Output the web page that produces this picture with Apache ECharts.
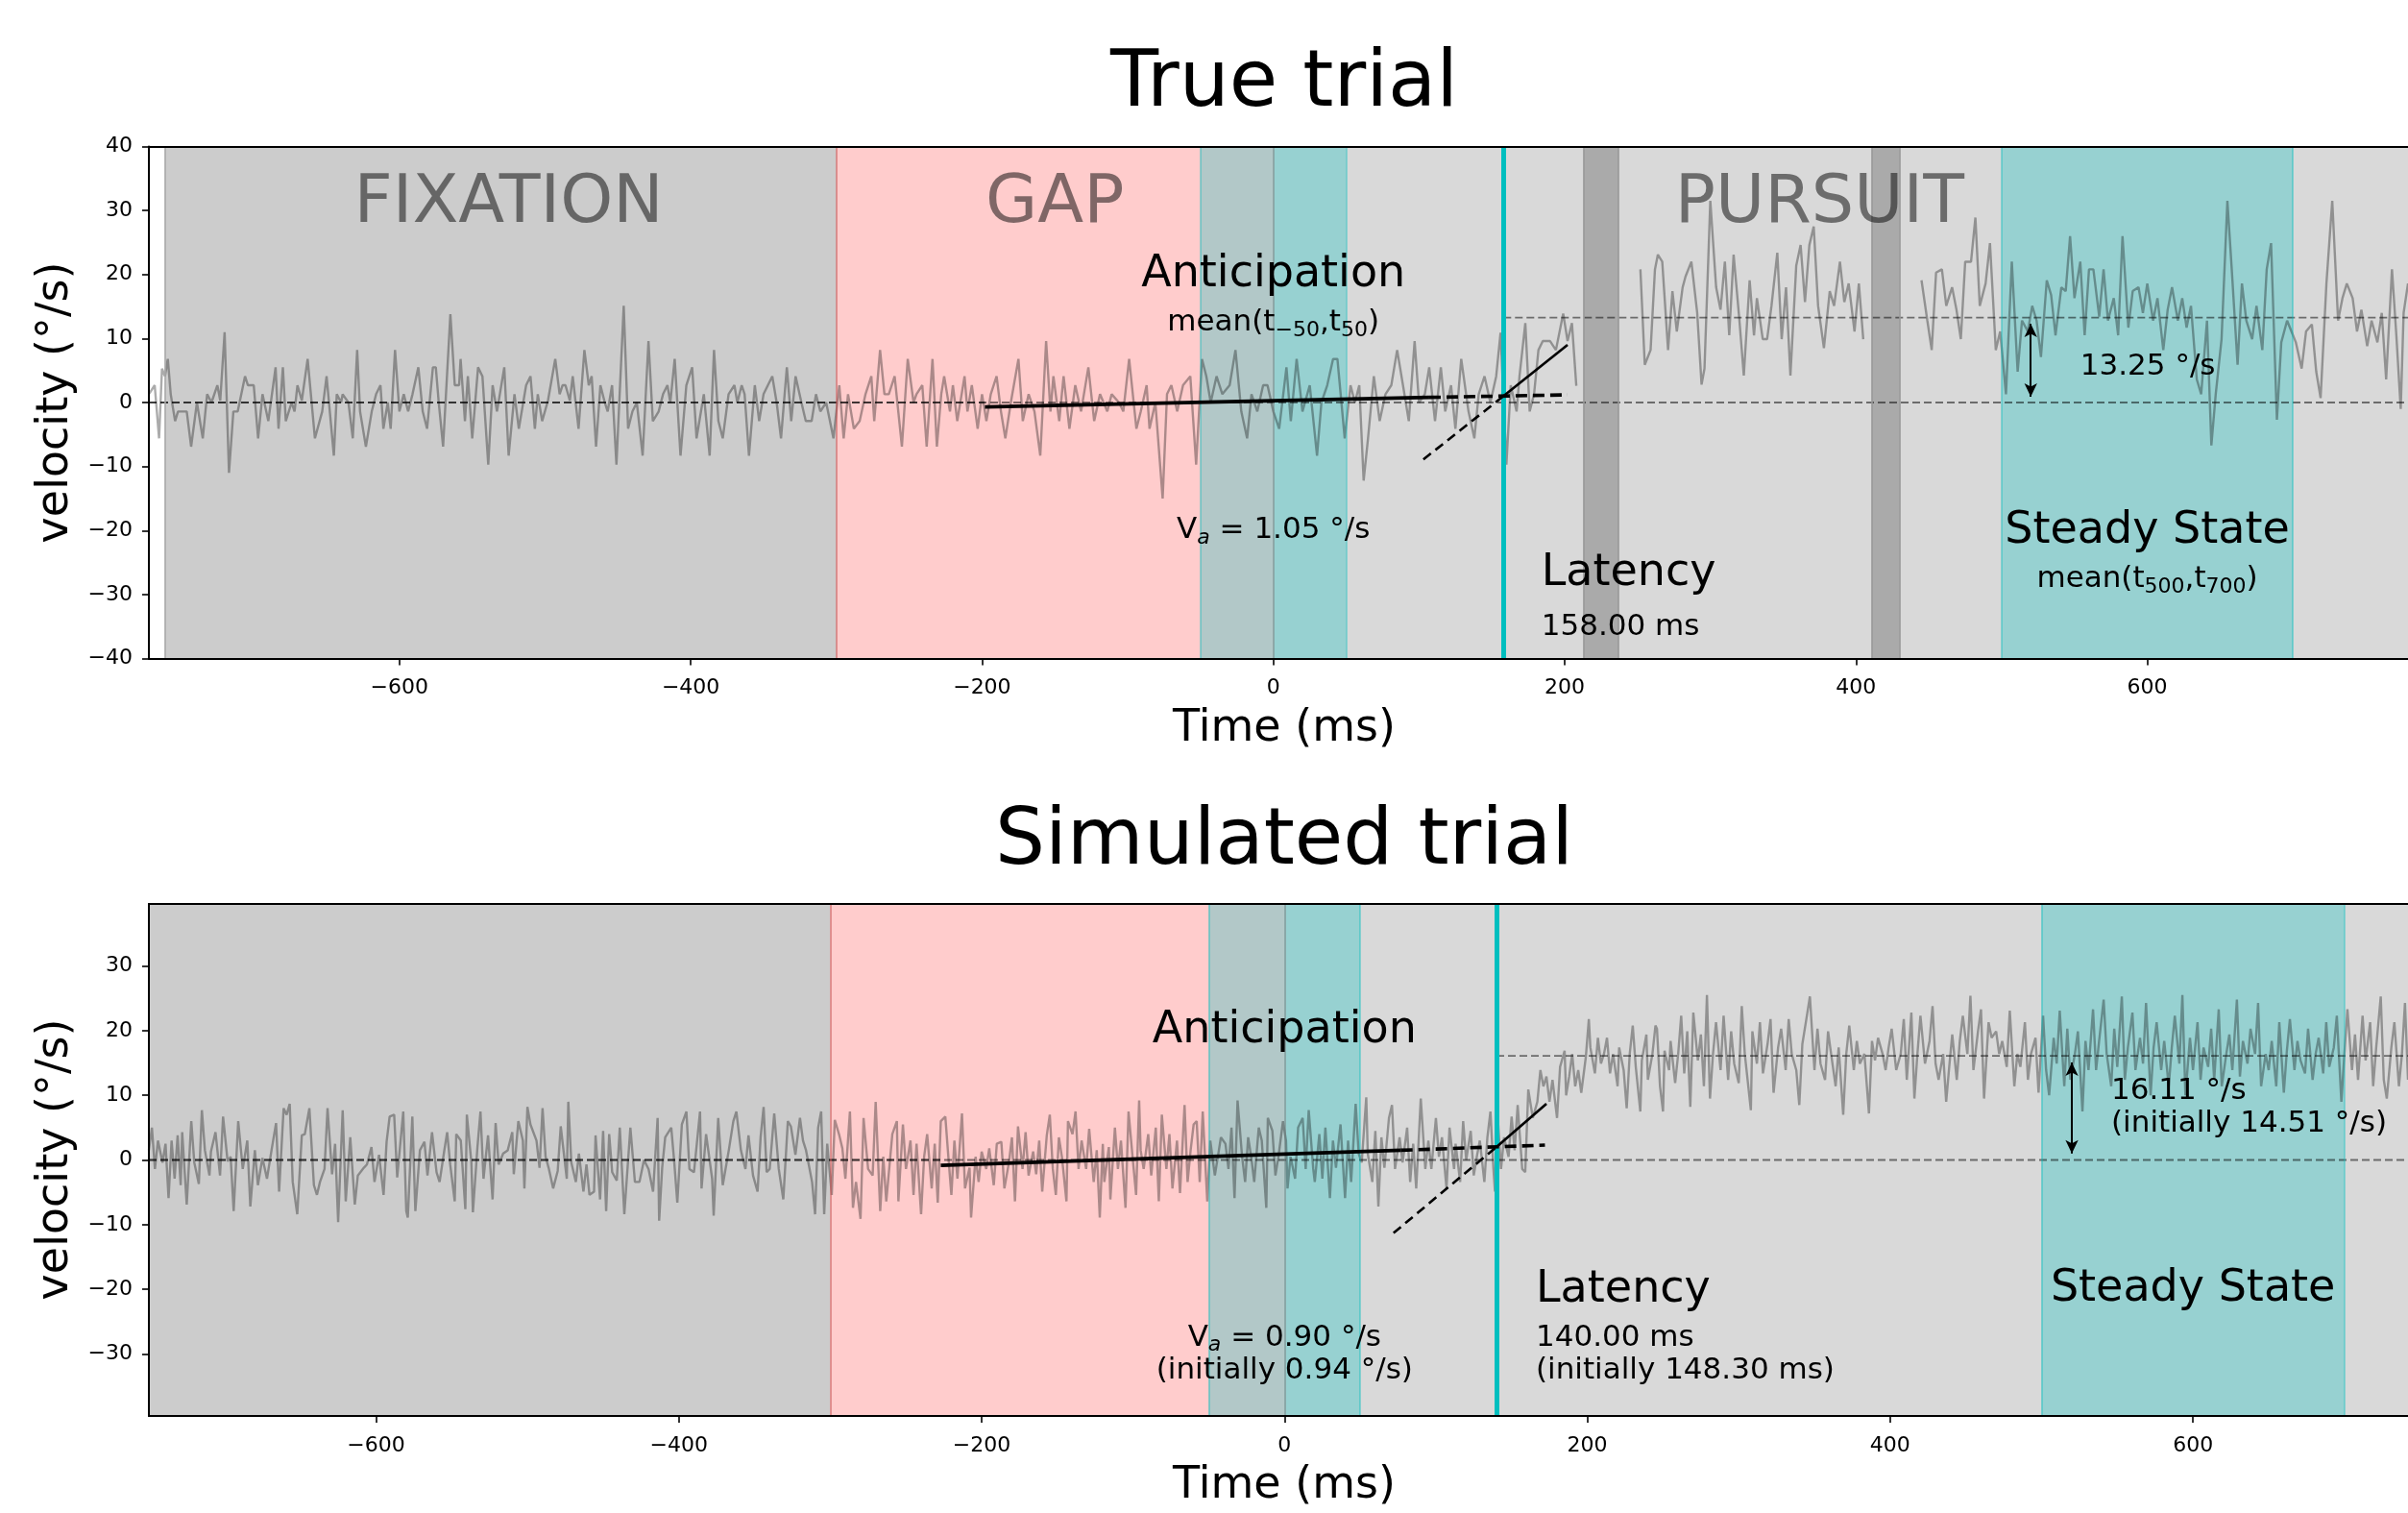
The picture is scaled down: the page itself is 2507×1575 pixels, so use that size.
<!DOCTYPE html>
<html><head><meta charset="utf-8">
<script src="https://cdn.jsdelivr.net/npm/echarts@6/dist/echarts.min.js"></script>
<style>html,body{margin:0;padding:0;background:#fff}#c{width:2507px;height:1575px}</style>
</head><body><div id="c"></div>
<script>
// ---------- data ----------
const xTicks = [-600,-400,-200,0,200,400,600];
const yTicksTrue = [-40,-30,-20,-10,0,10,20,30,40];
const yTicksSim = [-30,-20,-10,0,10,20,30];
const xRangeTrue = [-772, 779];
const xRangeSim = [-750, 742];
const yRangeTrue = [-40, 40];
const yRangeSim = [-39.6, 39.6];

const fixationTrue = [-761, -300];
const fixationSim = [-750, -300];
const gapWin = [-300, 0];
const anticipWin = [-50, 50];
const steadyWin = [500, 700];
const saccadesTrue = [[213, 237], [411, 430]];
const saccadesSim = [];
const latencyTrue = 158;
const latencySim = 140;
const steadyTrue = 13.25;
const steadySim = 16.11;
const baselineEndTrue = -198;
const baselineEndSim = -227;

const fitFlatTrue = [[-198,-0.7],[107,0.8]];
const fitFlatExtTrue = [[107,0.8],[202,1.2]];
const fitRiseExtTrue = [[103,-8.9],[158,1.0]];
const fitRiseTrue = [[158,1.0],[202,9.0]];
const fitFlatSim = [[-227,-0.84],[77,1.5]];
const fitFlatExtSim = [[77,1.5],[172,2.3]];
const fitRiseExtSim = [[72,-11.3],[140,2.0]];
const fitRiseSim = [[140,2.0],[173,8.7]];

const arrowTrue = [520, 0.9, 12.3];
const arrowSim = [520, 1.0, 15.1];

// true trial eye velocity (ms, deg/s); null = missing samples (saccades)
const trueTrace = [[-772,1.3],[-768,2.7],[-765,-5.6],[-763,5.3],[-761,4.1],[-759,6.8],[-757,1.3],[-754,-2.9],[-752,-1.4],[-746,-1.4],[-743,-6.9],[-739,0],[-738,-1.4],[-735,-5.6],[-732,1.3],[-729,0],[-725,2.7],[-723,0.3],[-720,11],[-717,-11],[-714,-1.4],[-711,-1.4],[-706,4.1],[-704,2.7],[-700,2.7],[-697,-5.6],[-694,1.3],[-690,-2.9],[-685,5.5],[-683,-4.1],[-680,5.5],[-678,-2.9],[-674,0],[-672,-1.4],[-670,2.7],[-667,0.3],[-663,6.8],[-658,-5.6],[-653,-1.4],[-650,4.1],[-645,-8.3],[-643,1.3],[-640,0],[-639,1.3],[-635,0],[-632,-5.6],[-629,8.2],[-627,-1.4],[-623,-6.9],[-619,-1.4],[-616,1.3],[-613,2.7],[-611,-4.1],[-608,0],[-606,-4.1],[-603,8.2],[-600,-1.4],[-597,1.3],[-594,-1.4],[-591,1.3],[-587,5.5],[-584,-1.4],[-581,-4.1],[-577,5.5],[-575,5.5],[-573,0],[-570,-6.9],[-565,13.8],[-562,2.7],[-559,2.7],[-558,6.8],[-555,-2.9],[-553,4.1],[-550,-5.6],[-546,5.5],[-543,4.1],[-539,-9.7],[-536,2.7],[-533,-1.4],[-528,5.5],[-525,-8.3],[-521,1.3],[-518,-4.1],[-513,2.7],[-510,4.1],[-507,-4.1],[-505,1.3],[-502,-2.9],[-498,0.3],[-493,6.8],[-490,1.3],[-488,2.7],[-486,2.7],[-483,0.3],[-481,4.1],[-477,-4.1],[-473,8.2],[-470,2.7],[-468,4.1],[-465,-6.9],[-462,2.7],[-459,0],[-457,-1.4],[-454,2.7],[-451,-9.7],[-446,15.1],[-443,-4.1],[-440,-1.4],[-437,0],[-433,-8.3],[-429,9.6],[-426,-2.9],[-422,-1.4],[-419,1.3],[-416,2.7],[-414,0],[-411,6.8],[-407,-8.3],[-403,2.7],[-399,5.5],[-396,-5.6],[-391,1.3],[-387,-8.3],[-384,8.2],[-381,-2.9],[-378,-5.6],[-374,1.3],[-370,2.7],[-368,0],[-365,2.7],[-363,1.3],[-360,-8.3],[-356,2.7],[-353,-2.9],[-350,1.3],[-344,4.1],[-341,0],[-338,-5.6],[-334,5.5],[-331,-2.9],[-328,4.1],[-324,0],[-321,-2.9],[-317,-2.9],[-314,1.3],[-311,-1.4],[-307,0],[-302,-5.6],[-298,2.7],[-295,-5.6],[-292,1.3],[-288,-4.1],[-284,-2.9],[-280,1.3],[-276,4.1],[-274,-2.9],[-270,8.2],[-267,1.3],[-264,1.3],[-260,4.1],[-255,-6.9],
[-251,6.8],[-247,0],[-245,1.3],[-241,2.7],[-238,-6.9],[-234,6.8],[-231,-6.9],[-228,1.3],[-226,4.1],[-222,-1.4],[-220,2.7],[-217,-2.9],[-212,4.1],[-210,-1.4],[-207,2.7],[-203,-4.1],[-200,1.3],[-197,-2.9],[-194,1.3],[-190,4.1],[-187,-1.4],[-184,-5.6],[-180,0.3],[-175,6.8],[-172,-2.9],[-168,1.3],[-164,-1.4],[-160,-8.3],[-156,9.6],[-153,-1.4],[-151,4.1],[-147,-2.9],[-144,4.1],[-140,-4.1],[-136,2.7],[-132,-1.4],[-127,5.5],[-123,-2.9],[-119,1.3],[-114,-1.4],[-111,1.3],[-106,0],[-103,-1.4],[-99,6.8],[-94,-4.1],[-91,-1.4],[-87,2.7],[-85,-4.1],[-81,0],[-76,-15],[-73,1.3],[-70,2.7],[-66,-1.4],[-62,2.7],[-57,4.1],[-53,-9.7],[-49,6.8],[-46,4.1],[-43,0],[-39,4.1],[-35,1.3],[-30,2.7],[-26,8.2],[-22,-1.4],[-18,-5.6],[-15,1.3],[-11,-1.4],[-7,2.7],[-4,2.7],[0,-1.4],[4,-4.1],[9,5.5],[12,-2.9],[16,6.8],[20,-1.4],[25,2.7],[30,-8.3],[33,0],[37,2.7],[41,6.8],[44,6.8],[49,-5.6],[53,2.7],[56,0],[59,2.7],[62,-12.2],[65,-5.6],[69,4.1],[73,-2.9],[77,1.3],[81,2.7],[85,8.2],[89,2.7],[93,-2.9],[97,9.6],[100,0],[104,1.3],[107,5.5],[111,-2.9],[115,5.5],[118,-1.4],[122,2.7],[125,-4.1],[129,6.8],[134,-1.4],[138,-5.6],[141,1.3],[145,4.1],[149,0],[153,4.1],[156,10.9],[160,-9.7],[163,2.7],[167,-1.4],[169,4.1],[173,12.4],[176,-1.4],[179,1.3],[182,8.2],[185,9.6],[190,9.6],[194,8.2],[199,13.9],[202,9.6],[205,12.4],[208,2.6],
[230,null],
[252,20.8],[255,5.9],[259,8.2],[262,20.8],[264,23.1],[267,22],[271,8.2],[274,17.4],[277,11.1],[281,18],[283,19.7],[287,22],[291,14],[294,2.8],[296,5.3],[300,31.5],[304,18],[307,14.5],[310,22],[313,10.5],[316,23.1],[320,12.8],[323,4.2],[327,19.1],[330,10.5],[332,16.3],[336,9.9],[339,9.9],[342,15.1],[346,23.4],[349,9.9],[352,18],[355,4.2],[359,21.4],[362,24.6],[365,15.7],[368,24.6],[371,27.5],[374,15.1],[378,8.5],[382,17.4],[385,15.1],[389,22],[392,15.7],[395,18.6],[399,11.1],[402,18.6],[405,9.9],
[425,null],
[445,19.1],[449,12.8],[452,8.2],[455,20.3],[459,20.8],[462,15.1],[466,18],[469,14.5],[472,9.9],[475,22],[479,22],[482,28.9],[485,15.1],[489,18.6],[492,24.9],[496,8.2],[499,11.1],[503,1.3],[507,22],[511,4.8],[514,12.8],[518,11.1],[521,15.1],[524,12.8],[527,7.1],[531,19.1],[534,16.8],[537,10.5],[541,18],[544,17.4],[547,26],[550,16.3],[554,22],[557,10.5],[560,20.8],[563,20.8],[567,13.4],[570,20.8],[573,12.8],[577,16.3],[580,10.5],[583,26],[587,11.7],[590,17.4],[594,18],[597,14],[600,18.6],[604,12.8],[607,16.3],[611,8.2],[614,14.5],[617,18],[621,12.8],[624,16.3],[627,11.7],[630,15.1],[634,3.6],[637,1.3],[641,12.8],[644,-6.7],[647,1.3],[651,9.9],[655,31.5],[658,20.8],[662,5.9],[665,18.6],[668,12.8],[672,9.9],[675,15.1],[679,8.2],[682,20.8],[685,24.9],[689,-2.7],[692,9.4],[696,12.8],[699,11.1],[702,9.4],[706,5.3],[709,11.1],[713,12.2],[716,4.8],[719,0.7],[723,18.6],[727,31.5],[731,12.8],[734,16.3],[737,18.6],[741,16.3],[744,11.1],[747,14.5],[751,8.8],[754,12.8],[758,9.4],[761,14],[764,3.6],[768,20.8],[771,10.5],[774,-1],[776,14],[779,18.6]];

// simulated trial eye velocity (ms, deg/s)
const simTrace = [[-750,1.5],[-748,5.0],[-746,-1.4],[-744,3.0],[-741,-0.4],[-739,2.5],[-737,-5.9],[-735,3.0],[-733,-2.9],[-731,3.8],[-729,-3.9],[-728,4.3],[-725,-6.9],[-722,6.0],[-720,-0.4],[-717,-3.7],[-715,7.7],[-713,1.5],[-710,-2.4],[-709,1.3],[-706,4.3],[-703,-2.4],[-701,6.7],[-698,-0.2],[-696,0.5],[-694,-7.9],[-691,6.0],[-688,-1.4],[-685,3.0],[-683,-7.2],[-680,1.5],[-678,-3.9],[-675,0.3],[-672,-2.9],[-669,1.5],[-666,5.7],[-664,-4.9],[-661,8.0],[-659,7.0],[-657,8.7],[-655,-3.4],[-652,-8.4],[-649,3.8],[-647,4.0],[-644,8.0],[-641,-3.9],[-639,-5.4],[-637,-3.4],[-634,-1.4],[-632,8.0],[-629,-2.2],[-627,2.5],[-625,-9.6],[-622,7.7],[-620,-6.4],[-617,3.5],[-614,-6.9],[-612,-2.4],[-608,-1.2],[-606,-0.7],[-603,2.0],[-601,-3.4],[-598,0.8],[-595,-5.4],[-593,2.8],[-591,6.7],[-588,7.0],[-586,-2.7],[-582,7.5],[-580,-7.9],[-579,-8.9],[-576,6.7],[-574,-7.9],[-571,1.5],[-568,2.8],[-566,-2.4],[-563,4.3],[-560,-1.9],[-558,-3.4],[-555,1.3],[-553,4.3],[-551,-0.7],[-548,-6.4],[-547,4.0],[-544,3.0],[-541,-7.6],[-540,7.0],[-537,-0.4],[-536,-8.1],[-533,2.0],[-531,7.5],[-529,-2.9],[-526,3.8],[-523,-6.1],[-521,5.7],[-519,-0.7],[-516,1.0],[-513,1.5],[-510,4.3],[-509,-2.2],[-506,6.0],[-503,3.0],[-502,-4.4],[-500,8.2],[-498,5.5],[-494,3.0],[-492,-1.2],[-490,8.0],[-488,0.5],[-486,-1.2],[-483,-4.4],[-480,-1.7],[-478,5.2],[-474,-2.9],[-473,9.0],[-471,-0.4],[-468,-3.4],[-466,1.0],[-463,-4.9],[-461,-0.7],[-459,-5.4],[-456,-4.9],[-455,3.8],[-452,-6.1],[-450,4.5],[-448,-7.9],[-446,4.0],[-444,-1.9],[-441,-3.2],[-439,5.0],[-436,-8.4],[-432,5.0],[-429,-3.4],[-426,-3.4],[-423,0],[-420,-1.4],[-417,-4.9],[-414,6.5],[-413,-9.4],[-411,-1.2],[-409,3.5],[-405,5.0],[-403,-0.4],[-401,-6.6],[-398,5.5],[-395,7.5],[-393,-1.4],[-390,-1.9],[-386,7.5],[-385,-4.4],[-382,4.0],[-378,-2.9],[-377,-8.6],[-374,6.5],[-371,-3.9],[-367,1.5],[-364,6.0],[-362,7.5],[-359,1.5],[-356,-1.4],[-354,3.8],[-351,-2.4],[-348,-4.9],[-346,3.5],[-344,8.2],[-342,-1.9],[-340,-1.4],[-337,7.2],[-334,-1.4],[-331,-6.1],[-328,6.0],[-326,5.2],[-323,0.8],[-320,6.5],[-318,3.0],[-316,1.5],[-312,-3.4],[-310,-8.4],[-308,5.0],[-306,7.5],[-304,-8.4],[-302,2.5],[-299,-5.4],[-297,6.2],[-294,3.8],[-292,1.8],[-290,-2.9],[-287,7.5],[-285,-7.4],[-283,-3.4],[-280,-9.1],[-278,6.5],[-275,-1.4],[-272,-2.4],[-270,9.0],[-267,-7.9],[-265,0.5],[-263,-6.4],[-259,4.0],[-256,6.0],[-255,-6.4],
[-252,5.5],[-250,-1.4],[-247,3.0],[-245,-5.4],[-243,2.5],[-240,-8.4],[-238,0.5],[-236,4.0],[-233,-4.4],[-231,2.5],[-229,-6.6],[-227,6.0],[-224,6.7],[-222,0.5],[-220,-5.4],[-218,3.0],[-216,-2.9],[-213,7.2],[-211,-4.4],[-208,-1.2],[-207,-8.9],[-204,0.5],[-202,-3.4],[-200,1.3],[-197,-1.4],[-195,1.8],[-192,-3.9],[-190,2.5],[-187,2.8],[-185,-4.4],[-182,-0.4],[-180,3.5],[-178,-6.4],[-176,5.2],[-173,-1.4],[-171,4.3],[-169,-2.4],[-166,1.3],[-164,-2.2],[-162,3.0],[-160,-4.9],[-157,3.8],[-155,7.0],[-153,-1.4],[-151,-5.4],[-149,3.5],[-147,0.5],[-144,-6.4],[-143,6.0],[-140,4.0],[-138,7.5],[-136,-1.4],[-134,3.0],[-131,-1.4],[-129,4.8],[-126,-3.4],[-124,1.5],[-122,-8.9],[-120,2.5],[-119,-3.4],[-116,2.0],[-115,-6.1],[-112,5.0],[-110,-1.4],[-108,3.0],[-105,-7.4],[-103,7.5],[-100,-0.4],[-98,-5.4],[-96,9.2],[-95,1.5],[-93,-1.4],[-90,4.0],[-88,-2.4],[-85,5.0],[-83,-6.4],[-81,7.0],[-78,-1.4],[-76,4.0],[-74,-4.4],[-71,3.0],[-69,-5.1],[-66,8.5],[-64,-3.4],[-62,1.5],[-60,5.5],[-58,6.0],[-56,-3.4],[-54,7.5],[-51,-6.4],[-49,3.0],[-46,-2.4],[-44,0.5],[-42,3.5],[-39,2.5],[-37,-1.4],[-35,5.0],[-33,-5.9],[-31,9.2],[-28,0.5],[-26,-3.4],[-24,3.5],[-22,0.5],[-20,-3.4],[-17,5.0],[-15,3.0],[-12,-7.4],[-11,6.5],[-8,4.5],[-6,-2.4],[-4,0.5],[-1,6.0],[1,3.0],[2,-4.4],[4,0.5],[7,-2.9],[9,5.0],[12,6.5],[14,-1.4],[16,7.7],[19,-1.4],[20,-3.4],[23,4.0],[25,-2.9],[27,5.0],[30,-5.9],[32,3.0],[34,-1.2],[37,5.5],[40,-5.9],[42,3.0],[44,-3.4],[47,8.7],[49,1.0],[51,-0.4],[54,9.7],[55,1.0],[58,-3.4],[60,4.5],[62,-7.2],[64,3.5],[66,-1.2],[69,6.5],[71,8.5],[73,-1.4],[76,3.5],[78,-0.4],[81,5.0],[83,-3.4],[85,2.5],[87,-4.4],[90,9.5],[93,-1.4],[95,3.0],[97,-1.4],[100,6.5],[102,0.5],[104,3.5],[107,-4.4],[109,5.0],[112,-1.4],[113,2.5],[116,-3.4],[118,6.0],[120,0],[123,4.5],[125,-2.4],[127,0.5],[129,3.0],[132,-3.4],[134,3.5],[136,7.5],[138,-1.4],[139,-4.9],[141,6.0],[143,-1.4],[145,3.5],[148,0.5],[150,6.7],[152,1.5],[154,8.5],[157,-1.4],[159,-1.9],[161,10.9],[164,6.5],[167,9.0],[169,13.9],[171,11.4],[173,12.9],[175,9.0],[177,12.4],[180,6.5],[182,14.4],[185,16.9],[186,10.0],[188,12.9],[190,16.4],[192,11.4],[194,13.9],[196,10.4],[199,15.9],[201,21.8],[202,17.4],[205,13.4],[207,18.9],[209,14.9],[211,16.4],[213,18.9],[215,13.4],[217,16.4],[220,11.4],[221,17.4],[224,13.9],[226,8.0],[228,16.4],[230,20.8],[232,14.4],[235,7.5],[236,15.4],[239,19.4],[240,12.4],[243,16.4],[245,20.8],
[246,20.3],[248,11.4],[250,7.5],[251,16.9],[254,13.9],[255,18.4],[258,11.9],[260,16.4],[262,22.3],[264,13.4],[266,19.9],[268,8.2],[270,22.8],[273,15.4],[275,19.4],[277,11.4],[279,25.5],[281,9.5],[283,16.4],[285,21.3],[288,13.9],[290,22.3],[293,12.4],[295,19.9],[297,14.9],[300,11.9],[302,23.8],[304,16.4],[308,7.7],[309,19.9],[312,14.9],[314,21.3],[316,13.4],[319,17.9],[321,21.8],[323,10.4],[326,17.4],[328,20.3],[331,13.9],[333,21.8],[335,16.4],[338,13.9],[340,8.5],[342,17.9],[345,22.3],[347,25.3],[350,13.9],[352,20.3],[354,14.9],[357,12.4],[359,19.9],[361,16.4],[364,11.4],[366,17.4],[369,7.0],[371,16.4],[373,20.8],[376,13.9],[378,18.4],[380,14.9],[383,16.4],[386,7.2],[388,18.4],[390,15.4],[392,18.9],[395,16.4],[397,13.9],[399,17.4],[401,20.3],[404,13.9],[407,16.4],[409,21.8],[411,12.4],[414,22.8],[416,9.5],[418,16.4],[420,22.3],[423,14.9],[426,18.4],[428,23.8],[430,14.9],[432,12.4],[435,16.4],[437,9.0],[439,14.4],[441,19.4],[444,12.4],[446,18.4],[448,22.3],[451,16.4],[453,25.4],[455,13.9],[458,19.9],[460,23.3],[462,9.5],[465,21.3],[467,18.9],[470,19.9],[472,16.4],[474,18.4],[477,14.4],[479,23.1],[482,11.4],[484,16.4],[486,14.4],[489,21.3],[491,12.4],[493,16.4],[496,18.9],[498,10.4],[501,22.3],[503,13.9],[505,10.0],[508,18.9],[510,14.9],[512,23.1],[515,11.4],[517,20.3],[519,12.4],[522,16.4],[524,19.9],[527,7.5],[529,18.4],[531,13.9],[534,23.3],[536,13.9],[538,18.4],[541,24.8],[543,16.4],[546,11.4],[548,20.3],[550,14.4],[553,25.3],[555,12.4],[557,17.4],[560,22.8],[562,13.9],[565,18.9],[567,14.9],[569,24.3],[572,10.0],[574,17.4],[576,21.3],[579,13.9],[581,18.4],[584,11.4],[586,17.4],[588,22.3],[591,14.9],[593,25.5],[595,10.0],[598,18.9],[600,13.9],[603,21.3],[605,12.4],[607,17.4],[610,14.4],[612,20.3],[614,12.4],[617,23.3],[619,11.4],[622,16.4],[624,19.4],[626,13.9],[629,24.8],[631,12.9],[633,18.4],[636,14.9],[638,20.3],[641,16.4],[643,24.3],[645,11.4],[648,16.4],[650,13.9],[652,18.4],[655,11.4],[657,21.3],[660,10.4],[662,16.9],[664,21.8],[667,13.9],[669,18.4],[671,15.4],[674,13.4],[676,20.3],[679,12.4],[681,16.4],[683,18.9],[686,13.4],[688,21.3],[690,14.4],[693,17.4],[695,22.3],[698,9.0],[700,16.4],[702,23.3],[705,13.9],[707,19.4],[709,12.4],[712,22.3],[714,15.4],[717,21.3],[719,11.4],[721,17.4],[724,25.3],[726,12.4],[728,9.5],[731,17.4],[733,21.3],[736,11.4],[738,16.4],[740,24.3],[742,12.4]];

// annotation texts: [text (rich markup), x (ms), y (deg/s), anchor, kind]
const notesTrue = [
  ['FIXATION', -525, 31.7, 'center', 'phase'],
  ['GAP', -150, 31.7, 'center', 'phase'],
  ['PURSUIT', 375, 31.7, 'center', 'phase'],
  ['Anticipation', 0, 20.4, 'center', 'big'],
  ['{n|mean(t}{s|\u221250}{n|,t}{s|50}{n|)}', 0, 12.7, 'center', 'small'],
  ['{n|V}{si|a}{n| = 1.05 \u00B0/s}', 0, -19.7, 'center', 'small'],
  ['Latency', 184, -26.3, 'left', 'big'],
  ['{n|158.00 ms}', 184, -34.8, 'left', 'small'],
  ['Steady State', 600, -19.7, 'center', 'big'],
  ['{n|mean(t}{s|500}{n|,t}{s|700}{n|)}', 600, -27.3, 'center', 'small'],
  ['{n|13.25 \u00B0/s}', 554, 5.8, 'left', 'small']
];
const notesSim = [
  ['Anticipation', 0, 20.4, 'center', 'big'],
  ['{n|V}{si|a}{n| = 0.90 \u00B0/s}\n{n|(initially 0.94 \u00B0/s)}', 0, -29.75, 'center', 'small'],
  ['Latency', 166, -19.7, 'left', 'big'],
  ['{n|140.00 ms}\n{n|(initially 148.30 ms)}', 166, -29.75, 'left', 'small'],
  ['Steady State', 600, -19.6, 'center', 'big'],
  ['{n|16.11 \u00B0/s}\n{n|(initially 14.51 \u00B0/s)}', 546, 8.35, 'left', 'small']
];

// ---------- rendering ----------
const FONT = 'DejaVu Sans';
const TEAL = 'rgba(0,191,191,0.3)';
const richSmall = {
  n: {fontSize: 31, lineHeight: 34, color: '#000', fontFamily: FONT},
  s: {fontSize: 22, lineHeight: 20, padding: [16, 0, 0, 0], color: '#000', fontFamily: FONT},
  si: {fontSize: 22, lineHeight: 20, padding: [16, 0, 0, 0], color: '#000', fontFamily: FONT, fontStyle: 'italic'}
};
const noteStyle = {
  phase: {fontSize: 70, color: 'rgba(0,0,0,0.5)', offset: [0, 5]},
  big: {fontSize: 46, color: '#000', offset: [0, 3]},
  small: {fontSize: 31, color: '#000', lineHeight: 34, offset: [0, 2], rich: richSmall}
};
const fmt = v => (v < 0 ? '\u2212' + Math.abs(v) : String(v));

const chart = echarts.init(document.getElementById('c'), null, {renderer: 'canvas'});

function axesFor(g, xr, yr, yt) {
  const line = {show: true, onZero: false, lineStyle: {color: '#000', width: 2}};
  return {
    x: [
      {type: 'value', gridIndex: g, min: xr[0], max: xr[1], position: 'bottom', z: 10,
       axisLine: line,
       axisTick: {show: true, length: 7, lineStyle: {color: '#000', width: 1.6}, customValues: xTicks},
       axisLabel: {customValues: xTicks, formatter: fmt, fontSize: 22, color: '#000', margin: 20, fontFamily: FONT},
       splitLine: {show: false}},
      {type: 'value', gridIndex: g, min: xr[0], max: xr[1], position: 'top', z: 10,
       axisLine: line, axisTick: {show: false}, axisLabel: {show: false}, splitLine: {show: false}}
    ],
    y: {type: 'value', gridIndex: g, min: yr[0], max: yr[1], position: 'left', z: 10,
        axisLine: line,
        axisTick: {show: true, length: 7, lineStyle: {color: '#000', width: 1.6}, customValues: yt},
        axisLabel: {customValues: yt, formatter: fmt, fontSize: 22, color: '#000', margin: 17, fontFamily: FONT},
        splitLine: {show: false}}
  };
}

function seg(xi, yi, pts, color, width, dash, z) {
  return {type: 'line', xAxisIndex: xi, yAxisIndex: yi, data: pts, z: z, silent: true,
    symbol: 'none', showSymbol: false, animation: false,
    lineStyle: {color: color, width: width, type: dash || 'solid', cap: 'butt'}};
}

function panelSeries(p) {
  const xi = p.xi, yi = p.yi;
  const areas = [
    [{xAxis: p.fix[0], itemStyle: {color: '#cccccc'}}, {xAxis: p.fix[1]}],
    [{xAxis: gapWin[0], itemStyle: {color: '#ffcccc'}}, {xAxis: gapWin[1]}],
    [{xAxis: gapWin[1], itemStyle: {color: '#d9d9d9'}}, {xAxis: p.xr[1]}]
  ];
  p.sacc.forEach(s => areas.push([{xAxis: s[0], itemStyle: {color: '#aaaaaa'}}, {xAxis: s[1]}]));
  areas.push([{xAxis: anticipWin[0], itemStyle: {color: TEAL}}, {xAxis: anticipWin[1]}]);
  areas.push([{xAxis: steadyWin[0], itemStyle: {color: TEAL}}, {xAxis: steadyWin[1]}]);

  const edges = [
    {xAxis: p.fix[0], lineStyle: {color: '#a9a9a9'}},
    {xAxis: gapWin[0], lineStyle: {color: 'rgba(190,70,70,0.6)'}},
    {xAxis: gapWin[1], lineStyle: {color: 'rgba(120,120,120,0.6)'}},
    {xAxis: anticipWin[0], lineStyle: {color: 'rgba(0,191,191,0.45)'}},
    {xAxis: anticipWin[1], lineStyle: {color: 'rgba(0,191,191,0.45)'}},
    {xAxis: steadyWin[0], lineStyle: {color: 'rgba(0,191,191,0.45)'}},
    {xAxis: steadyWin[1], lineStyle: {color: 'rgba(0,191,191,0.45)'}}
  ];
  p.sacc.forEach(s => { edges.push({xAxis: s[0], lineStyle: {color: '#999'}}); edges.push({xAxis: s[1], lineStyle: {color: '#999'}}); });

  const dashGrey = 'rgba(0,0,0,0.5)';
  return [
    {type: 'line', xAxisIndex: xi, yAxisIndex: yi, data: [], z: 1, silent: true,
     markArea: {silent: true, animation: false, data: areas}},
    {type: 'line', xAxisIndex: xi, yAxisIndex: yi, data: [], z: 1, silent: true,
     markLine: {silent: true, animation: false, symbol: 'none', label: {show: false},
       lineStyle: {type: 'solid', width: 1.6}, data: edges}},
    {type: 'line', xAxisIndex: xi, yAxisIndex: yi, z: 2, silent: true, animation: false,
     symbol: 'none', showSymbol: false, connectNulls: false,
     lineStyle: {color: 'rgba(0,0,0,0.33)', width: 2.4},
     data: p.trace.map(d => [d[0], d[1] === null ? '-' : d[1]])},
    seg(xi, yi, [[p.xr[0], 0], [p.xr[1], 0]], dashGrey, 1.8, [8, 4], 3),
    seg(xi, yi, [[p.xr[0], 0], [p.baseEnd, 0]], dashGrey, 1.8, [8, 4], 3),
    seg(xi, yi, [[p.lat, p.steady], [p.xr[1], p.steady]], dashGrey, 1.8, [8, 4], 3),
    {type: 'line', xAxisIndex: xi, yAxisIndex: yi, data: [], z: 4, silent: true,
     markLine: {silent: true, animation: false, symbol: 'none', label: {show: false},
       lineStyle: {type: 'solid', width: 5, color: '#00bfbf'}, data: [{xAxis: p.lat}]}},
    seg(xi, yi, p.fitFlat, '#000', 3.6, 'solid', 5),
    seg(xi, yi, p.fitFlatExt, '#000', 3.6, [12, 6], 5),
    seg(xi, yi, p.fitRiseExt, '#000', 2.6, [10, 6], 5),
    seg(xi, yi, p.fitRise, '#000', 2.6, 'solid', 5),
    {type: 'line', xAxisIndex: xi, yAxisIndex: yi, data: [], z: 6, silent: true,
     markLine: {silent: true, animation: false, symbol: ['arrow', 'arrow'], symbolSize: [10, 14],
       label: {show: false}, lineStyle: {type: 'solid', width: 2, color: '#000'},
       data: [[{coord: [p.arrow[0], p.arrow[1]]}, {coord: [p.arrow[0], p.arrow[2]]}]]}},
    {type: 'scatter', xAxisIndex: xi, yAxisIndex: yi, z: 10, silent: true, animation: false,
     symbolSize: 1, itemStyle: {color: 'rgba(0,0,0,0)', opacity: 1},
     data: p.notes.map(n => ({value: [n[1], n[2]],
       label: Object.assign({show: true, position: 'inside', formatter: n[0], align: n[3],
         verticalAlign: 'middle', fontFamily: FONT, opacity: 1, textBorderWidth: 0}, noteStyle[n[4]])}))}
  ];
}

const A = axesFor(0, xRangeTrue, yRangeTrue, yTicksTrue);
const B = axesFor(1, xRangeSim, yRangeSim, yTicksSim);

const panels = [
  {xi: 0, yi: 0, xr: xRangeTrue, fix: fixationTrue, sacc: saccadesTrue, trace: trueTrace,
   baseEnd: baselineEndTrue, lat: latencyTrue, steady: steadyTrue, fitFlat: fitFlatTrue,
   fitFlatExt: fitFlatExtTrue, fitRiseExt: fitRiseExtTrue, fitRise: fitRiseTrue, arrow: arrowTrue, notes: notesTrue},
  {xi: 2, yi: 1, xr: xRangeSim, fix: fixationSim, sacc: saccadesSim, trace: simTrace,
   baseEnd: baselineEndSim, lat: latencySim, steady: steadySim, fitFlat: fitFlatSim,
   fitFlatExt: fitFlatExtSim, fitRiseExt: fitRiseExtSim, fitRise: fitRiseSim, arrow: arrowSim, notes: notesSim}
];

const txt = (text, x, y, size, rot) => ({type: 'text', x: x, y: y, rotation: rot || 0, z: 100,
  style: {text: text, fontSize: size, fontFamily: FONT, fill: '#000', align: 'center', verticalAlign: 'middle'}});

chart.setOption({
  animation: false,
  backgroundColor: '#ffffff',
  textStyle: {fontFamily: FONT},
  grid: [
    {left: 155, right: 0, top: 152.5, height: 533},
    {left: 155, right: 0, top: 941, height: 533}
  ],
  xAxis: A.x.concat(B.x),
  yAxis: [A.y, B.y],
  series: panelSeries(panels[0]).concat(panelSeries(panels[1])),
  graphic: [
    txt('True trial', 1337, 89, 82),
    txt('Simulated trial', 1337, 878, 82),
    txt('Time (ms)', 1337, 759, 46),
    txt('Time (ms)', 1337, 1547, 46),
    txt('velocity (\u00B0/s)', 58, 419, 46, Math.PI / 2),
    txt('velocity (\u00B0/s)', 58, 1207, 46, Math.PI / 2)
  ]
});
</script>
</body></html>
